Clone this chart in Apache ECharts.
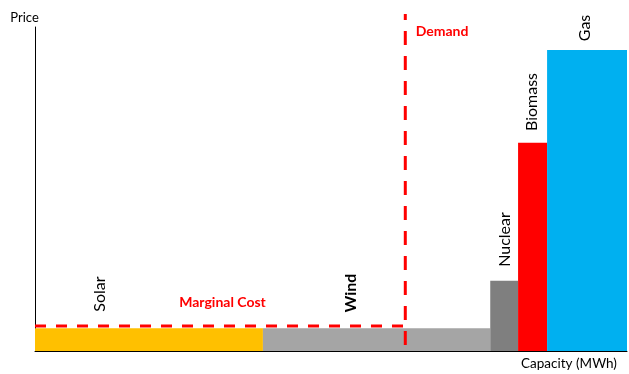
<!DOCTYPE html>
<html>
<head>
<meta charset="utf-8">
<script src="https://cdn.jsdelivr.net/npm/echarts@6/dist/echarts.min.js"></script>
<style>
html,body{margin:0;padding:0;background:#fff;}
#chart{width:629px;height:374px;}
</style>
</head>
<body>
<div id="chart"></div>
<script>
// Merit-order data (arbitrary units: capacity 0-100, price 0-100)
var sources = ['Solar', 'Wind', 'Nuclear', 'Biomass', 'Gas'];
var capacities = [38.5, 38.4, 4.7, 4.9, 13.5];
var prices = [7, 7, 21.7, 64.3, 92.9];
var colors = ['#FFC000', '#A5A5A5', '#7F7F7F', '#FF0000', '#00B0F0'];
var demandCapacity = 62.55;
var demandTop = 104;
var marginalCost = 7.7;
var axisTitles = { y: 'Price', x: 'Capacity (MWh)' };
var annotations = { demand: 'Demand', marginal: 'Marginal Cost' };

var FONT = 'Lato, "Liberation Sans", sans-serif';

var barData = [];
var start = 0;
for (var i = 0; i < sources.length; i++) {
  barData.push([start, start + capacities[i], prices[i], i]);
  start += capacities[i];
}

var chart = echarts.init(document.getElementById('chart'));

function txt(text, x, y, opts) {
  opts = opts || {};
  return {
    type: 'text',
    x: x, y: y,
    rotation: opts.rot || 0,
    z: 100,
    style: {
      text: text,
      fill: opts.color || '#000',
      font: (opts.bold ? 'bold ' : '') + (opts.size || 14) + 'px ' + FONT,
      textAlign: 'center',
      textVerticalAlign: 'middle'
    }
  };
}

var labelPos = {
  Solar: [100, 294, false],
  Wind: [350.5, 293, true],
  Nuclear: [504.5, 239.5, false],
  Biomass: [532, 102, false],
  Gas: [585, 28, false]
};

var graphics = [
  txt(axisTitles.y, 24.5, 17.5, { size: 13 }),
  txt(axisTitles.x, 569, 363.5, { size: 13.5 }),
  txt(annotations.demand, 442, 31, { color: '#FF0000', bold: true, size: 14 }),
  txt(annotations.marginal, 222.5, 302.5, { color: '#FF0000', bold: true, size: 14 })
];
sources.forEach(function (s) {
  var p = labelPos[s];
  graphics.push(txt(s, p[0], p[1], { rot: Math.PI / 2, bold: p[2], size: 16 }));
});

chart.setOption({
  animation: false,
  backgroundColor: '#fff',
  grid: { left: 35, right: 2, top: 27, bottom: 23 },
  xAxis: {
    type: 'value', min: 0, max: 100,
    axisLine: { show: true, lineStyle: { color: '#000', width: 1 } },
    axisTick: { show: false }, axisLabel: { show: false }, splitLine: { show: false }
  },
  yAxis: {
    type: 'value', min: 0, max: 100,
    axisLine: { show: true, lineStyle: { color: '#000', width: 1 } },
    axisTick: { show: false }, axisLabel: { show: false }, splitLine: { show: false }
  },
  graphic: graphics,
  series: [
    {
      type: 'custom',
      z: 2,
      data: barData,
      renderItem: function (params, api) {
        var p0 = api.coord([api.value(0), api.value(2)]);
        var p1 = api.coord([api.value(1), 0]);
        return {
          type: 'rect',
          shape: { x: p0[0], y: p0[1], width: p1[0] - p0[0], height: p1[1] - p0[1] },
          style: { fill: colors[api.value(3)] }
        };
      }
    },
    {
      type: 'line',
      z: 5,
      clip: false,
      symbol: 'none',
      silent: true,
      data: [[0, marginalCost], [demandCapacity, marginalCost]],
      lineStyle: { color: '#FF0000', width: 3, type: [11, 10] }
    },
    {
      type: 'line',
      z: 5,
      clip: false,
      symbol: 'none',
      silent: true,
      data: [[demandCapacity, demandTop], [demandCapacity, 0]],
      lineStyle: { color: '#FF0000', width: 3, type: [14, 11], dashOffset: 8 }
    }
  ]
});
</script>
</body>
</html>
